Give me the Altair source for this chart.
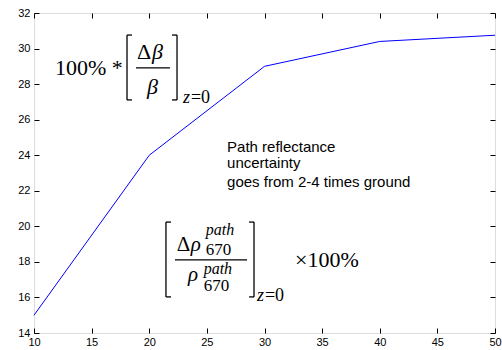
import altair as alt
import pandas as pd

# main series
xs = [10, 20, 30, 40, 50]
ys = [15.0, 24.0, 29.0, 30.4, 30.75]

x_ticks = [10, 15, 20, 25, 30, 35, 40, 45, 50]
y_ticks = [14, 16, 18, 20, 22, 24, 26, 28, 30, 32]

# annotation text (data coordinates)
up_text = ["100% *", "Δ", "=0", "Δ", "670", "670", "=0", "×100%"]
up_x = [11.82, 18.94, 23.62, 22.38, 24.90, 24.72, 30.04, 32.65]
up_y = [28.91, 29.81, 27.22, 18.95, 18.68, 16.64, 16.08, 18.11]
up_size = [22, 22, 18, 21, 17, 17, 18, 22]

it_text = ["β", "β", "z", "ρ", "path", "ρ", "path", "z"]
it_x = [20.24, 19.80, 22.93, 23.60, 24.90, 23.36, 24.72, 29.35]
it_y = [29.81, 27.84, 27.22, 18.95, 19.80, 17.26, 17.62, 16.08]
it_size = [22, 22, 18, 21, 16, 21, 16, 18]

# brackets and fraction bars
r_x = [18.07, 18.07, 18.07, 22.41, 21.97, 21.97, 18.85,
       21.45, 21.45, 21.45, 29.09, 28.66, 28.66, 22.23]
r_x2 = [18.07, 18.50, 18.50, 22.41, 22.41, 22.41, 21.80,
        21.45, 21.89, 21.89, 29.09, 29.09, 29.09, 28.48]
r_y = [30.76, 30.76, 27.11, 30.76, 30.76, 27.11, 28.91,
       20.24, 20.24, 16.03, 20.24, 20.24, 16.03, 18.11]
r_y2 = [27.11, 30.76, 27.11, 27.11, 30.76, 27.11, 28.91,
        16.03, 20.24, 16.03, 16.03, 20.24, 16.03, 18.11]

note_lines = ["Path reflectance", "uncertainty", "goes from 2-4 times ground"]
note_x = [26.75, 26.75, 26.75]
note_y = [24.20, 23.28, 22.23]

line_df = pd.DataFrame({"x": xs, "y": ys})
up_df = pd.DataFrame({"t": up_text, "x": up_x, "y": up_y, "s": up_size})
it_df = pd.DataFrame({"t": it_text, "x": it_x, "y": it_y, "s": it_size})
r_df = pd.DataFrame({"x": r_x, "x2": r_x2, "y": r_y, "y2": r_y2})
note_df = pd.DataFrame({"t": note_lines, "x": note_x, "y": note_y})

xscale = alt.Scale(domain=[10, 50], nice=False, zero=False)
yscale = alt.Scale(domain=[14, 32], nice=False, zero=False)

common = dict(title=None, tickSize=5, offset=-5, domain=False, grid=False,
              tickColor="black", tickWidth=1, labelFont="Liberation Sans",
              labelFontSize=11, labelColor="black", labelFlush=False,
              labelOverlap=False)

x_bottom = alt.Axis(values=x_ticks, orient="bottom", labelPadding=3, **common)
y_left = alt.Axis(values=y_ticks, orient="left", labelPadding=4, **common)
x_top = alt.Axis(values=x_ticks, orient="top", labels=False, **common)
y_right = alt.Axis(values=y_ticks, orient="right", labels=False, **common)


def X(axis=None):
    return alt.X("x:Q", scale=xscale, axis=axis)


def Y(axis=None):
    return alt.Y("y:Q", scale=yscale, axis=axis)


line = alt.Chart(line_df).mark_line(color="#0000ff", strokeWidth=1).encode(
    x=X(x_bottom), y=Y(y_left))

frame_ticks = alt.Chart(line_df).mark_point(opacity=0).encode(
    x=X(x_top), y=Y(y_right))

up = alt.Chart(up_df).mark_text(font="Liberation Serif", align="left",
                                baseline="middle", color="black").encode(
    x=X(), y=Y(), text="t:N", size=alt.Size("s:Q", scale=None, legend=None))

it = alt.Chart(it_df).mark_text(font="Liberation Serif", fontStyle="italic",
                                align="left", baseline="middle", color="black").encode(
    x=X(), y=Y(), text="t:N", size=alt.Size("s:Q", scale=None, legend=None))

rules = alt.Chart(r_df).mark_rule(color="black", strokeWidth=1.3).encode(
    x=X(), x2="x2:Q", y=Y(), y2="y2:Q")

note = alt.Chart(note_df).mark_text(font="Liberation Sans", fontSize=15,
                                    align="left", baseline="alphabetic",
                                    color="black").encode(
    x=X(), y=Y(), text="t:N")

chart = alt.layer(frame_ticks, line, rules, up, it, note).resolve_axis(
    x="independent", y="independent"
).properties(
    width=461, height=320,
    autosize=alt.AutoSizeParams(type="none"),
    padding={"left": 34, "top": 13, "right": 7, "bottom": 17},
).configure_view(stroke="black", strokeWidth=1).configure(background="white")

chart.save("out.html", embed_options={"renderer": "svg", "actions": False})
